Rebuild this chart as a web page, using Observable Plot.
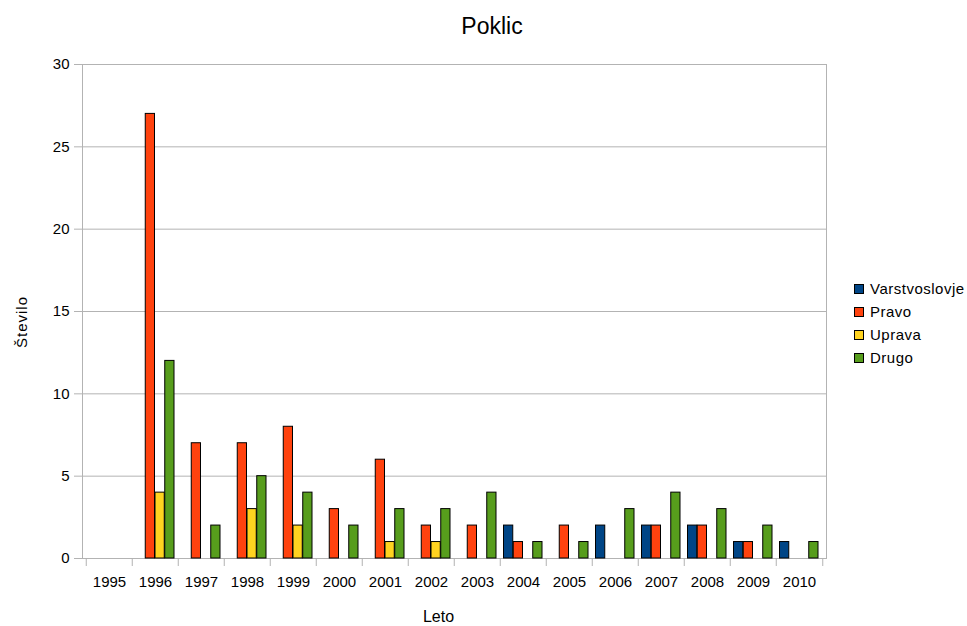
<!DOCTYPE html>
<html>
<head>
<meta charset="utf-8">
<script src="https://cdn.jsdelivr.net/npm/d3@7"></script>
<script src="https://cdn.jsdelivr.net/npm/@observablehq/plot@0.6"></script>
<style>
  html, body { margin: 0; padding: 0; background: #fff; }
  body { font-family: "Liberation Sans", Arial, sans-serif; }
  #fig { position: relative; width: 967px; height: 626px; overflow: hidden; }
  #title { height: 40px; padding-top: 6px; line-height: 40px; font-size: 23px; color: #000;
           position: absolute; left: 0; top: 0; width: 984px; text-align: center; }
  #chart { position: absolute; left: 0; top: 46px; }
  #ylabel { position: absolute; left: 21.5px; top: 321.5px; font-size: 15px; letter-spacing: 1px;
            line-height: 18px; white-space: nowrap; color: #000;
            transform: translate(-50%, -50%) rotate(-90deg); }
  #legend { position: absolute; left: 854px; top: 277px; font-size: 15px; letter-spacing: 0.5px; color: #000; }
  .row { display: flex; align-items: center; height: 23px; }
  .sw { width: 8px; height: 8px; border: 1px solid #000; margin-right: 6px; }
</style>
</head>
<body>
<div id="fig">
  <div id="title"></div>
  <div id="chart"></div>
  <div id="ylabel"></div>
  <div id="legend"></div>
</div>
<script>
const years = [1995,1996,1997,1998,1999,2000,2001,2002,2003,2004,2005,2006,2007,2008,2009,2010];
const seriesNames = ["Varstvoslovje","Pravo","Uprava","Drugo"];
const seriesColors = ["#004586","#ff420e","#ffd320","#579d1c"];
const varstvoslovje = [0,0,0,0,0,0,0,0,0,2,0,2,2,2,1,1];
const pravo         = [0,27,7,7,8,3,6,2,2,1,2,0,2,2,1,0];
const uprava        = [0,4,0,3,2,0,1,1,0,0,0,0,0,0,0,0];
const drugo         = [0,12,2,5,4,2,3,3,4,1,1,3,4,3,2,1];
const yTicks = [0,5,10,15,20,25,30];
const titleText = "Poklic";
const xLabel = "Leto";
const yLabel = "Število";

const seriesValues = [varstvoslovje, pravo, uprava, drugo];

const W = 967, H = 580;
const mL = 82, mR = 141, mT = 18, mB = 68;
const band = (W - mL - mR) / years.length;
const barW = 9.75;
const off = 3.5;
const gray = "#b3b3b3";

const barMarks = seriesNames.map((name, i) => {
  const rows = years.map((y, j) => ({year: y, series: name, value: seriesValues[i][j]}))
                    .filter(d => d.value > 0);
  return Plot.barY(rows, {
    x: "year", y: "value", fill: "series",
    stroke: "#000", strokeWidth: 1,
    insetLeft: off + i * barW,
    insetRight: band - off - (i + 1) * barW
  });
});

const chart = Plot.plot({
  width: W, height: H,
  marginLeft: mL, marginRight: mR, marginTop: mT, marginBottom: mB,
  style: {fontFamily: "'Liberation Sans', Arial, sans-serif", fontSize: "15px", color: "#000", background: "#fff"},
  x: {type: "band", domain: years, padding: 0},
  y: {domain: [0, 30]},
  color: {domain: seriesNames, range: seriesColors},
  marks: [
    Plot.gridY(yTicks, {stroke: gray, strokeOpacity: 1}),
    Plot.frame({stroke: gray}),
    Plot.ruleX(years, {x: d => d, y1: 0, y2: 0, dx: -band / 2, insetBottom: -8, stroke: gray}),
    Plot.ruleX([years[years.length - 1]], {x: d => d, y1: 0, y2: 0, dx: band / 2, insetBottom: -8, stroke: gray}),
    ...barMarks,
    Plot.axisY({ticks: yTicks, tickSize: 8, tickPadding: 5, stroke: gray, fontSize: 15, label: null}),
    Plot.axisX({tickSize: 0, tickPadding: 18, fontSize: 15, tickFormat: d => String(d), label: null}),
    Plot.text([xLabel], {frameAnchor: "bottom", dx: -16, dy: 58.7, lineAnchor: "middle", fontSize: 16, text: d => d})
  ]
});
document.getElementById("chart").appendChild(chart);
document.getElementById("title").textContent = titleText;
document.getElementById("ylabel").textContent = yLabel;

const legend = document.getElementById("legend");
seriesNames.forEach((name, i) => {
  const row = document.createElement("div");
  row.className = "row";
  const sw = document.createElement("div");
  sw.className = "sw";
  sw.style.background = seriesColors[i];
  const lab = document.createElement("span");
  lab.textContent = name;
  row.appendChild(sw);
  row.appendChild(lab);
  legend.appendChild(row);
});
</script>
</body>
</html>
